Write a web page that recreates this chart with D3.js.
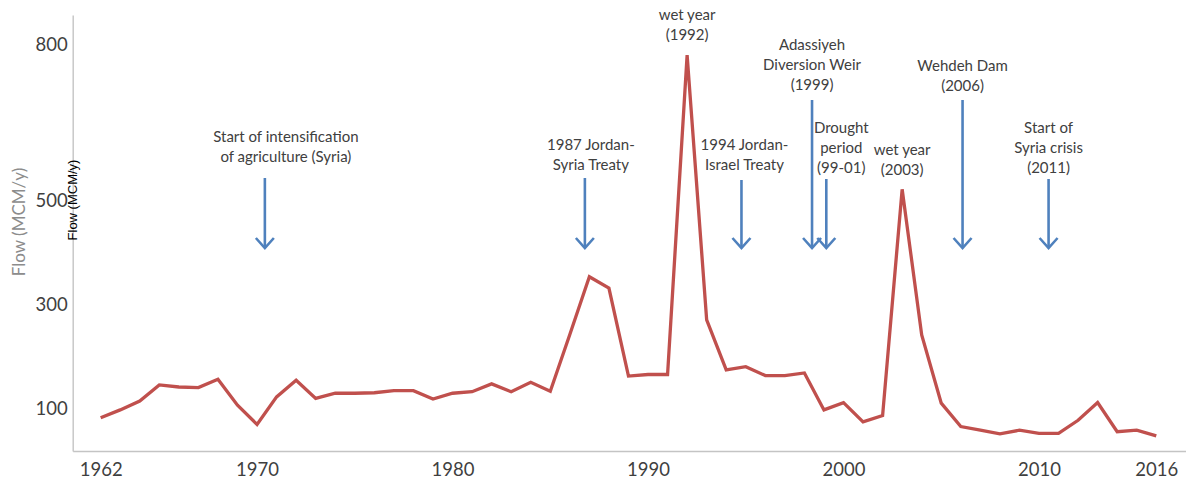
<!DOCTYPE html>
<html>
<head>
<meta charset="utf-8">
<script src="https://cdn.jsdelivr.net/npm/d3@7"></script>
<style>
  body { margin: 0; background: #fff; }
  svg { display: block; }
  .tick text { font-family: Lato, "Open Sans", sans-serif; font-size: 18.5px; fill: #3f3f3f; }
  .note { font-family: Lato, "Open Sans", sans-serif; font-size: 15px; fill: #404040; }
</style>
</head>
<body>
<svg id="chart" width="1186" height="487"></svg>
<script>
// yearly flow, 1962..2016 (MCM/y)
const years = d3.range(1962, 2017);
const flow = [
  82, 97, 114, 145, 141, 140, 156, 106, 69, 122,
  154, 119, 129, 129, 130, 134, 134, 118, 129, 132,
  147, 132, 150, 133, 242, 353, 331, 162, 165, 165,
  779, 270, 174, 180, 163, 163, 168, 97, 111, 74,
  86, 521, 241, 110, 65, 58, 51, 58, 52, 52,
  77, 111, 55, 58, 47
];

const yTicks = [100, 300, 500, 800];
const xTicks = [1962, 1970, 1980, 1990, 2000, 2010, 2016];

// events: label lines and the year their arrow points at
const eventLines = [
  ["Start of intensification", "of agriculture (Syria)"],
  ["1987 Jordan-", "Syria Treaty"],
  ["wet year", "(1992)"],
  ["1994 Jordan-", "Israel Treaty"],
  ["Adassiyeh", "Diversion Weir", "(1999)"],
  ["Drought", "period", "(99-01)"],
  ["wet year", "(2003)"],
  ["Wehdeh Dam", "(2006)"],
  ["Start of", "Syria crisis", "(2011)"]
];
const eventYears = [1970.4, 1986.77, 1992, 1994.78, 1998.39, 1999.12, 2003, 2006.09, 2010.49];
const eventArrow = [true, true, false, true, true, true, false, true, true];

// layout of the labels (pixels)
const labelDx = [21, 6, 0, 3, 0, 15, 0, 0, 0];
const labelTop = [137, 145, 15, 145, 45, 128, 150, 66, 128];
const arrowTop = [178, 178, 0, 180, 100, 179, 0, 100, 179];
const arrowTip = 248;
const lineGap = 19.7;

const svg = d3.select("#chart"),
    margin = {top: 15, left: 72.7, right: 0, bottom: 36},
    width = +svg.attr("width") - margin.left - margin.right,
    height = +svg.attr("height") - margin.top - margin.bottom;

const g = svg.append("g").attr("transform", "translate(" + margin.left + "," + margin.top + ")");

const x = d3.scaleLinear().domain([1960.57, 2017.52]).range([0, width]);
const y = d3.scaleLinear().domain([18, 856]).range([height, 0]);

// axes
g.append("g")
    .attr("class", "axis axis--x")
    .attr("transform", "translate(0," + height + ")")
    .call(d3.axisBottom(x).tickValues(xTicks).tickFormat(d3.format("d")).tickSize(0).tickPadding(12))
    .call(a => a.select(".domain").attr("stroke", "#c4c4c4").attr("stroke-width", 1.6));

g.append("g")
    .attr("class", "axis axis--y")
    .call(d3.axisLeft(y).tickValues(yTicks).tickSize(0).tickPadding(5))
    .call(a => a.select(".domain").attr("stroke", "#c4c4c4").attr("stroke-width", 1.4));

// axis titles (there are two in the original)
svg.append("text")
    .attr("transform", "translate(25,222) rotate(-90)")
    .attr("text-anchor", "middle")
    .style("font", "17px Lato, sans-serif")
    .style("fill", "#8c8c8c")
    .text("Flow (MCM/y)");

svg.append("text")
    .attr("transform", "translate(77,200) rotate(-90)")
    .attr("text-anchor", "middle")
    .style("font", "13px 'Liberation Sans', Arial, sans-serif")
    .style("fill", "#000")
    .text("Flow (MCM/y)");

// flow line
const line = d3.line()
    .x((d, i) => x(years[i]))
    .y(d => y(d));

g.append("path")
    .datum(flow)
    .attr("fill", "none")
    .attr("stroke", "#c0504d")
    .attr("stroke-width", 3.3)
    .attr("stroke-linejoin", "miter")
    .attr("d", line);

// annotations
const ev = svg.selectAll(".event")
    .data(eventLines.map((lines, i) => ({lines: lines, year: eventYears[i], i: i})))
    .enter().append("g")
    .attr("class", "event");

ev.each(function(d) {
    const sel = d3.select(this);
    const ax = margin.left + x(d.year);
    const t = sel.append("text")
        .attr("class", "note")
        .attr("text-anchor", "middle");
    d.lines.forEach(function(s, k) {
        t.append("tspan")
            .attr("x", ax + labelDx[d.i])
            .attr("y", labelTop[d.i] + k * lineGap)
            .attr("dy", "0.35em")
            .text(s);
    });
    if (eventArrow[d.i]) {
        sel.append("line")
            .attr("x1", ax).attr("x2", ax)
            .attr("y1", arrowTop[d.i]).attr("y2", arrowTip - 1)
            .attr("stroke", "#4f81bd").attr("stroke-width", 2.6);
        sel.append("path")
            .attr("d", "M" + (ax - 9) + "," + (arrowTip - 10) + "L" + ax + "," + arrowTip + "L" + (ax + 9) + "," + (arrowTip - 10))
            .attr("fill", "none")
            .attr("stroke", "#4f81bd").attr("stroke-width", 2.6);
    }
});
</script>
</body>
</html>
